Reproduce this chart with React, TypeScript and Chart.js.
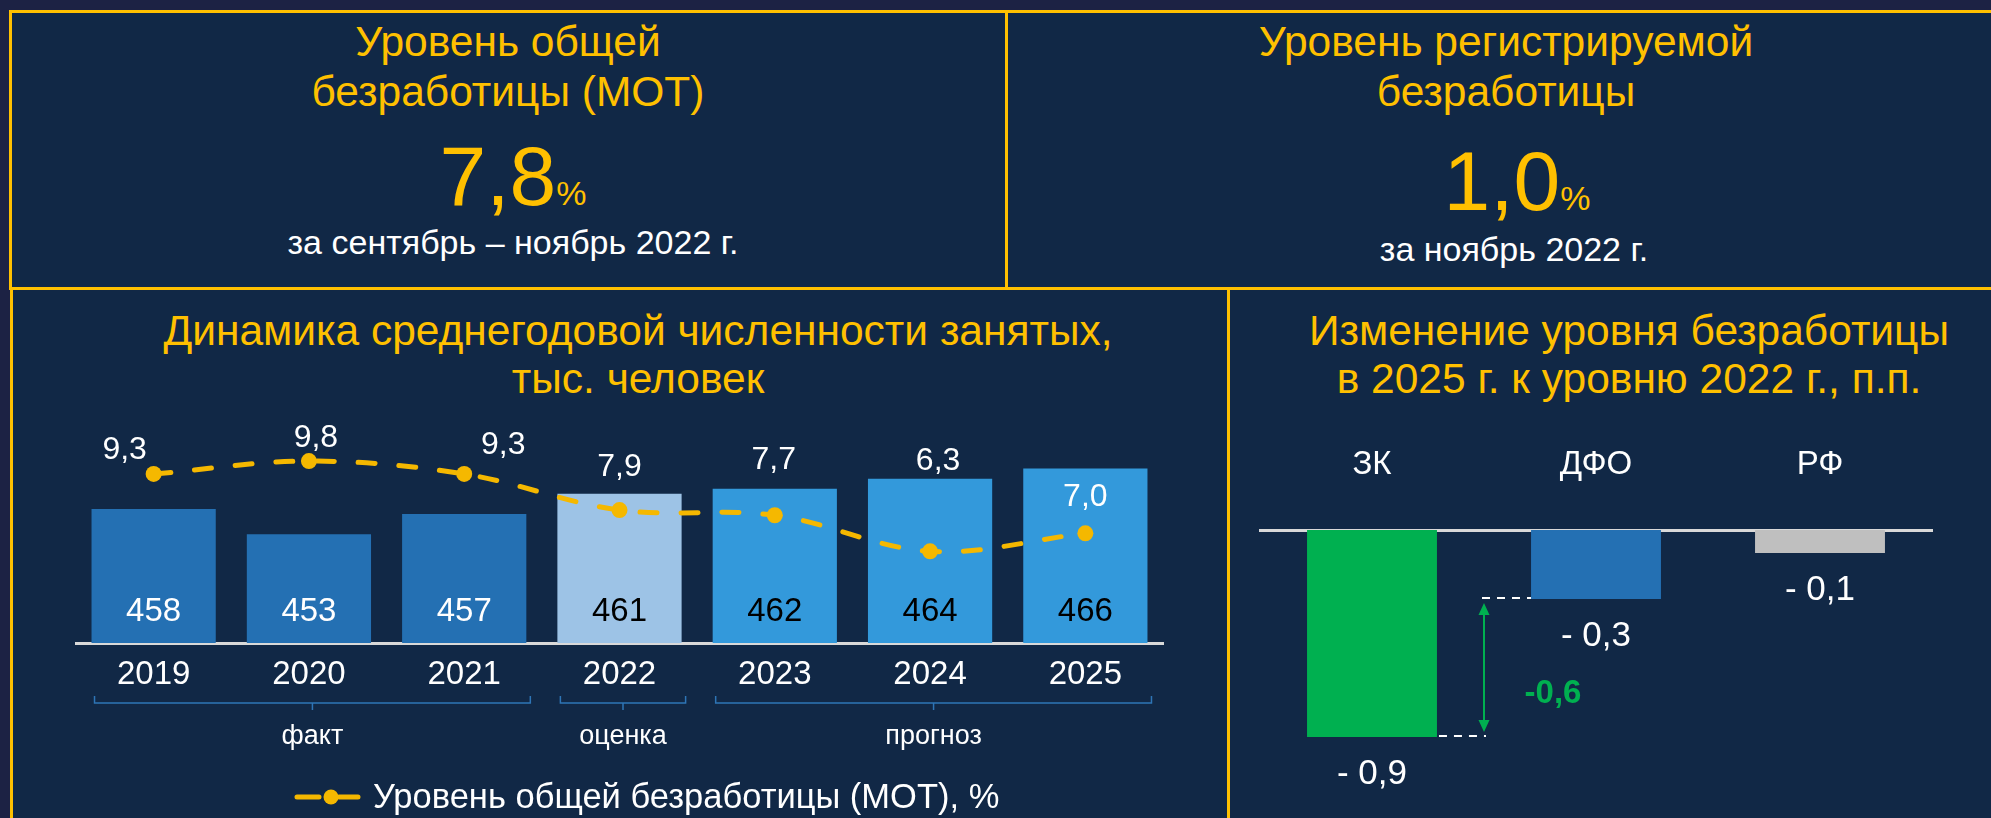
import React, { useEffect, useRef } from "react";
import { Chart, registerables } from "chart.js";

Chart.register(...registerables);

// ---------- data ----------
const years = ["2019", "2020", "2021", "2022", "2023", "2024", "2025"];
const employedThousands = [458, 453, 457, 461, 462, 464, 466];
const unemploymentRateILO = [9.3, 9.8, 9.3, 7.9, 7.7, 6.3, 7.0];
const yearGroup = [0, 0, 0, 1, 2, 2, 2];
const groupLabels = ["факт", "оценка", "прогноз"];

const regions = ["ЗК", "ДФО", "РФ"];
const unemploymentChange = [-0.9, -0.3, -0.1];

const lineLegend = "Уровень общей безработицы (МОТ), %";

// ---------- styles ----------
const FONT = '"Liberation Sans", Arial, Helvetica, sans-serif';
const GOLD = "#ffc000";
const LINE_GOLD = "#f5b800";
const BG_OUT = "#1c2244";
const BG_IN = "#112846";
const groupBarColors = ["#2470b3", "#9dc3e6", "#3399db"];
const groupValueColors = ["#ffffff", "#000000", "#000000"];
const regionColors = ["#00b050", "#2470b3", "#bfbfbf"];
const BRACKET = "#2e75b6";
const rateLabelOffset: [number, number][] = [
  [-29, -24],
  [7, -23],
  [39, -29],
  [0, -43],
  [-1, -55],
  [8, -90],
  [0, -36],
];

const fmt = (v: number) => v.toFixed(1).replace(".", ",");

const leftExtras = {
  id: "leftExtras",
  afterDatasetsDraw(chart: any) {
    const ctx = chart.ctx as CanvasRenderingContext2D;
    const area = chart.chartArea;
    const lineMeta = chart.getDatasetMeta(0);
    const barMeta = chart.getDatasetMeta(1);
    const xs = chart.scales.x;
    ctx.save();
    ctx.textAlign = "center";
    ctx.textBaseline = "middle";
    ctx.font = `33px ${FONT}`;
    barMeta.data.forEach((bar: any, i: number) => {
      ctx.fillStyle = groupValueColors[yearGroup[i]];
      ctx.fillText(String(employedThousands[i]), bar.x, area.bottom - 31);
    });
    ctx.font = `32px ${FONT}`;
    ctx.fillStyle = "#ffffff";
    lineMeta.data.forEach((pt: any, i: number) => {
      const [dx, dy] = rateLabelOffset[i];
      ctx.fillText(fmt(unemploymentRateILO[i]), pt.x + dx, pt.y + dy);
    });

    // brackets
    const barW = barMeta.data[0].width;
    const by = area.bottom + 60;
    groupLabels.forEach((g, gi) => {
      const idx = yearGroup.map((v, i) => (v === gi ? i : -1)).filter((i) => i >= 0);
      const x0 = xs.getPixelForValue(idx[0]) - barW / 2 + 3;
      const x1 = xs.getPixelForValue(idx[idx.length - 1]) + barW / 2 + 4;
      ctx.strokeStyle = BRACKET;
      ctx.lineWidth = 1.5;
      ctx.beginPath();
      ctx.moveTo(x0, by - 7);
      ctx.lineTo(x0, by);
      ctx.lineTo(x1, by);
      ctx.lineTo(x1, by - 7);
      const mx = (x0 + x1) / 2;
      ctx.moveTo(mx, by);
      ctx.lineTo(mx, by + 7);
      ctx.stroke();
      ctx.fillStyle = "#ffffff";
      ctx.font = `27px ${FONT}`;
      ctx.fillText(g, mx, by + 34);
    });

    // legend
    const ly = 397;
    const lx = 282;
    ctx.strokeStyle = LINE_GOLD;
    ctx.lineWidth = 5;
    ctx.lineCap = "round";
    ctx.beginPath();
    ctx.moveTo(lx + 2, ly);
    ctx.lineTo(lx + 24, ly);
    ctx.moveTo(lx + 44, ly);
    ctx.lineTo(lx + 63, ly);
    ctx.stroke();
    ctx.fillStyle = LINE_GOLD;
    ctx.beginPath();
    ctx.arc(lx + 36, ly, 7.5, 0, Math.PI * 2);
    ctx.fill();
    ctx.fillStyle = "#ffffff";
    ctx.font = `34.5px ${FONT}`;
    ctx.textAlign = "left";
    ctx.fillText(lineLegend, lx + 78, ly + 1);
    ctx.restore();
  },
};

const rightExtras = {
  id: "rightExtras",
  afterDatasetsDraw(chart: any) {
    const ctx = chart.ctx as CanvasRenderingContext2D;
    const meta = chart.getDatasetMeta(0);
    const ys = chart.scales.y;
    ctx.save();
    ctx.textAlign = "center";
    ctx.textBaseline = "middle";
    ctx.font = `35px ${FONT}`;
    ctx.fillStyle = "#ffffff";
    meta.data.forEach((bar: any, i: number) => {
      const v = unemploymentChange[i];
      ctx.fillText("- " + fmt(Math.abs(v)), bar.x, bar.y + 37);
    });

    // difference annotation between first two regions
    const b0 = meta.data[0];
    const b1 = meta.data[1];
    const r0 = b0.x + b0.width / 2;
    const l1 = b1.x - b1.width / 2;
    const ax = (r0 + l1) / 2;
    const yTop = ys.getPixelForValue(unemploymentChange[1]);
    const yBot = ys.getPixelForValue(unemploymentChange[0]);
    ctx.strokeStyle = "#ffffff";
    ctx.lineWidth = 2;
    ctx.setLineDash([8, 7]);
    ctx.beginPath();
    ctx.moveTo(ax - 2, yTop - 1);
    ctx.lineTo(l1, yTop - 1);
    ctx.moveTo(r0 + 2, yBot - 1);
    ctx.lineTo(ax + 2, yBot - 1);
    ctx.stroke();
    ctx.setLineDash([]);
    const G = regionColors[0];
    ctx.strokeStyle = G;
    ctx.fillStyle = G;
    ctx.lineWidth = 2;
    ctx.beginPath();
    ctx.moveTo(ax, yTop + 14);
    ctx.lineTo(ax, yBot - 14);
    ctx.stroke();
    ctx.beginPath();
    ctx.moveTo(ax, yTop + 4);
    ctx.lineTo(ax - 5.5, yTop + 16);
    ctx.lineTo(ax + 5.5, yTop + 16);
    ctx.closePath();
    ctx.fill();
    ctx.beginPath();
    ctx.moveTo(ax, yBot - 5);
    ctx.lineTo(ax - 5.5, yBot - 17);
    ctx.lineTo(ax + 5.5, yBot - 17);
    ctx.closePath();
    ctx.fill();
    const diff = unemploymentChange[0] - unemploymentChange[1];
    ctx.font = `bold 33px ${FONT}`;
    ctx.fillText(fmt(diff), ax + 69, (yTop + yBot) / 2 + 26);
    ctx.restore();
  },
};

type TxtProps = {
  cx: number;
  top: number;
  size: number;
  lh: number;
  color: string;
  children: React.ReactNode;
  w?: number;
};
function Txt({ cx, top, size, lh, color, children, w = 1000 }: TxtProps) {
  return (
    <div
      style={{
        position: "absolute",
        left: cx - w / 2,
        top,
        width: w,
        textAlign: "center",
        fontSize: size,
        lineHeight: `${lh}px`,
        color,
        whiteSpace: "nowrap",
      }}
    >
      {children}
    </div>
  );
}

function Box({ left, top, width, height }: { left: number; top: number; width: number; height: number }) {
  return (
    <div
      style={{
        position: "absolute",
        left,
        top,
        width,
        height,
        boxSizing: "border-box",
        border: `3px solid ${GOLD}`,
        background: BG_IN,
      }}
    />
  );
}

export default function App() {
  const leftRef = useRef<HTMLCanvasElement>(null);
  const rightRef = useRef<HTMLCanvasElement>(null);

  useEffect(() => {
    document.body.style.margin = "0";
    const leftChart = new Chart(leftRef.current as HTMLCanvasElement, {
      type: "bar",
      data: {
        labels: years,
        datasets: [
          {
            type: "line",
            label: lineLegend,
            data: unemploymentRateILO,
            yAxisID: "y1",
            borderColor: LINE_GOLD,
            borderWidth: 5,
            borderDash: [17, 24],
            borderCapStyle: "round",
            pointRadius: 8,
            pointHoverRadius: 8,
            pointBackgroundColor: LINE_GOLD,
            pointBorderWidth: 0,
            tension: 0.35,
            order: 0,
          } as any,
          {
            type: "bar",
            label: "Среднегодовая численность занятых, тыс. человек",
            data: employedThousands,
            yAxisID: "y",
            backgroundColor: yearGroup.map((g) => groupBarColors[g]),
            categoryPercentage: 0.8,
            barPercentage: 1,
            borderWidth: 0,
            order: 1,
          },
        ],
      },
      options: {
        responsive: false,
        animation: false,
        devicePixelRatio: 1,
        layout: { padding: { left: 63, right: 64, top: 18, bottom: 0 } },
        plugins: { legend: { display: false }, tooltip: { enabled: false }, title: { display: false } },
        scales: {
          x: {
            grid: { display: false, drawTicks: false },
            border: { display: true, color: "#d9d9d9", width: 3 },
            ticks: { color: "#ffffff", font: { size: 33, family: FONT }, padding: 12, maxRotation: 0 },
            afterFit: (s: any) => {
              s.height = 175;
            },
          },
          y: { display: false, min: 431.5, max: 476 },
          y1: { display: false, min: 2.746, max: 11.47 },
        },
      },
      plugins: [leftExtras],
    });

    const rightChart = new Chart(rightRef.current as HTMLCanvasElement, {
      type: "bar",
      data: {
        labels: regions,
        datasets: [
          {
            label: "Изменение уровня безработицы, п.п.",
            data: unemploymentChange,
            backgroundColor: regionColors,
            categoryPercentage: 0.58,
            barPercentage: 1,
            borderWidth: 0,
          },
        ],
      },
      options: {
        responsive: false,
        animation: false,
        devicePixelRatio: 1,
        layout: { padding: { left: 32, right: 59, top: 0, bottom: 0 } },
        plugins: { legend: { display: false }, tooltip: { enabled: false }, title: { display: false } },
        scales: {
          x: {
            position: "top",
            grid: { display: false, drawTicks: false },
            border: { display: true, color: "#d9d9d9", width: 3 },
            ticks: { color: "#ffffff", font: { size: 33, family: FONT }, padding: 45, maxRotation: 0 },
            afterFit: (s: any) => {
              s.height = 130;
            },
          },
          y: { display: false, min: -1.252, max: 0 },
        },
      },
      plugins: [rightExtras],
    });

    return () => {
      leftChart.destroy();
      rightChart.destroy();
    };
  }, []);

  return (
    <div
      style={{
        position: "absolute",
        left: 0,
        top: 0,
        width: 1991,
        height: 818,
        overflow: "hidden",
        background: BG_OUT,
        fontFamily: FONT,
      }}
    >
      <Box left={9} top={10} width={1000} height={280} />
      <Box left={1005} top={10} width={1100} height={280} />
      <Box left={10} top={287} width={1220} height={700} />
      <Box left={1227} top={287} width={900} height={700} />

      <Txt cx={508} top={17} size={42.5} lh={50} color={GOLD}>
        Уровень общей
        <br />
        безработицы (МОТ)
      </Txt>
      <Txt cx={513} top={134} size={84} lh={84} color={GOLD}>
        <span>7,8</span>
        <span style={{ fontSize: 34, lineHeight: 1 }}>%</span>
      </Txt>
      <Txt cx={513} top={224} size={34} lh={36} color="#ffffff">
        за сентябрь – ноябрь 2022 г.
      </Txt>

      <Txt cx={1506} top={17} size={42.5} lh={50} color={GOLD}>
        Уровень регистрируемой
        <br />
        безработицы
      </Txt>
      <Txt cx={1517} top={139} size={84} lh={84} color={GOLD}>
        <span>1,0</span>
        <span style={{ fontSize: 34, lineHeight: 1 }}>%</span>
      </Txt>
      <Txt cx={1514} top={231} size={34} lh={36} color="#ffffff">
        за ноябрь 2022 г.
      </Txt>

      <Txt cx={638} top={307} size={42.5} lh={48} color={GOLD}>
        Динамика среднегодовой численности занятых,
        <br />
        тыс. человек
      </Txt>
      <Txt cx={1629} top={307} size={42.5} lh={48} color={GOLD}>
        Изменение уровня безработицы
        <br />
        в 2025 г. к уровню 2022 г., п.п.
      </Txt>

      <canvas
        ref={leftRef}
        width={1214}
        height={418}
        style={{ position: "absolute", left: 13, top: 400, width: 1214, height: 418, display: "block" }}
      />
      <canvas
        ref={rightRef}
        width={763}
        height={418}
        style={{ position: "absolute", left: 1228, top: 400, width: 763, height: 418, display: "block" }}
      />
    </div>
  );
}
